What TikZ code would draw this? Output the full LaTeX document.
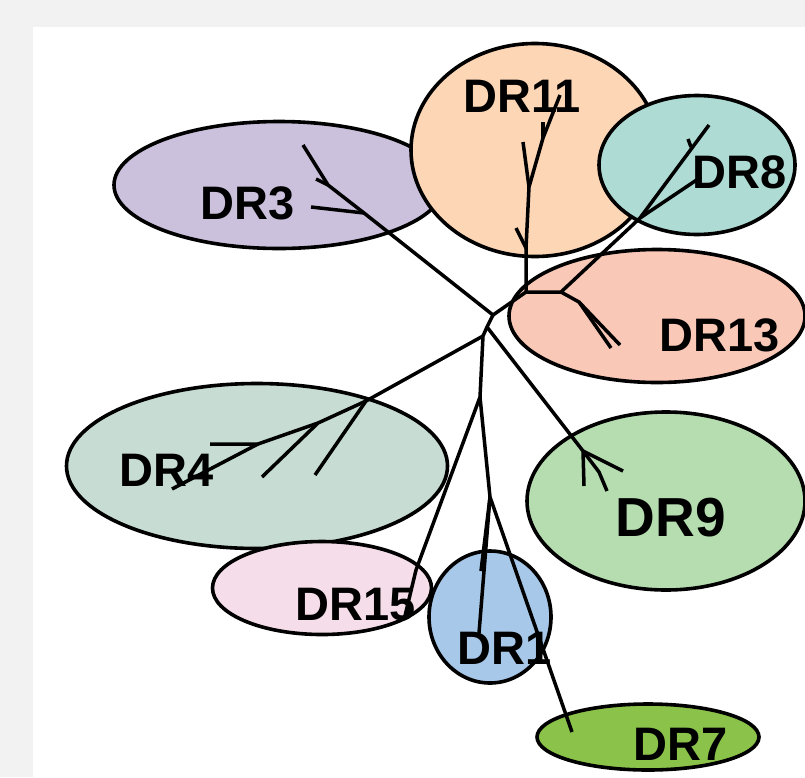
\documentclass[tikz,border=0pt]{standalone}
\usepackage{fontspec}
\setmainfont{Liberation Sans}
\usetikzlibrary{shapes.geometric}
\definecolor{bgcol}{HTML}{F2F2F2}
\definecolor{cthree}{HTML}{CBC1DC}
\definecolor{celeven}{HTML}{FDD6B5}
\definecolor{ceight}{HTML}{AEDCD5}
\definecolor{cthirteen}{HTML}{FAC8B7}
\definecolor{cfour}{HTML}{C7DDD3}
\definecolor{cnine}{HTML}{B5DDB0}
\definecolor{cfifteen}{HTML}{F6DDEA}
\definecolor{cone}{HTML}{A7C8E8}
\definecolor{cseven}{HTML}{8BC34A}
\begin{document}
\begin{tikzpicture}[x=1pt,y=-1pt,
  blob/.style={draw=black,line width=3.6pt,ellipse,inner sep=0pt},
  lbl/.style={font=\fontsize{47}{47}\selectfont\bfseries,inner sep=0pt},
  br/.style={line width=3.5pt,line cap=butt,line join=miter}]
\useasboundingbox (0,0) rectangle (805,777);
\fill[bgcol] (0,0) rectangle (805,777);
\fill[white] (33,27) rectangle (805,777);
% clusters
\node[blob,fill=cthree,minimum width=330pt,minimum height=127pt] (e3) at (279,185) {};
\node[blob,fill=celeven,minimum width=248pt,minimum height=213pt] (e11) at (535,150) {};
\node[blob,fill=ceight,minimum width=196pt,minimum height=139pt] (e8) at (697,165) {};
\node[blob,fill=cthirteen,minimum width=296pt,minimum height=133pt] (e13) at (657,316) {};
\node[blob,fill=cfour,minimum width=381pt,minimum height=165pt] (e4) at (257,466) {};
\node[blob,fill=cfifteen,minimum width=219pt,minimum height=93pt] (e15) at (322,588) {};
\node[blob,fill=cone,minimum width=122pt,minimum height=132pt] (e1) at (490,617) {};
\node[blob,fill=cnine,minimum width=278pt,minimum height=178pt] (e9) at (666,501) {};
\node[blob,fill=cseven,minimum width=222pt,minimum height=66pt] (e7) at (648,737) {};
% labels
\node[lbl] (t3) at (248,203) {DR3};
\node[lbl] (t11) at (522,96) {DR11};
\node[lbl] (t8) at (740,172) {DR8};
\node[lbl] (t13) at (720,335) {DR13};
\node[lbl] (t4) at (167,470) {DR4};
\node[lbl] (t15) at (356,605) {DR15};
\node[lbl] (t1) at (505,648) {DR1};
\node[lbl,font=\fontsize{55}{55}\selectfont\bfseries] (t9) at (671,518) {DR9};
\node[lbl] (t7) at (681,744) {DR7};
% tree coordinates
\coordinate (A) at (493,315);
\coordinate (C) at (487,327);
\coordinate (D) at (483,336);
\coordinate (E) at (480,397);
\coordinate (F) at (490,497);
\coordinate (B) at (526,292);
\coordinate (L) at (561,292);
\coordinate (J) at (529,187);
\coordinate (K) at (543,138);
\coordinate (M) at (640,218);
\coordinate (G) at (366,401);
\coordinate (H) at (318,423);
\coordinate (I) at (258,444);
\coordinate (P3) at (328,185);
\coordinate (O3) at (364,213);
\coordinate (N9) at (583,451);
\coordinate (Q9) at (599,472);
\coordinate (R13) at (579,302);
\coordinate (S15) at (416,570);
% leaves
\coordinate (l3a) at (303,145);
\coordinate (l3b) at (316,179);
\coordinate (l3c) at (311,207);
\coordinate (l11t) at (516,228);
\coordinate (l11a) at (523,142);
\coordinate (l11b) at (560,95);
\coordinate (l11c) at (543,122);
\coordinate (l8a) at (709,125);
\coordinate (l8b) at (701,177);
\coordinate (l8t1) at (691,147);
\coordinate (l8t2) at (688,139);
\coordinate (l13a) at (611,348);
\coordinate (l13b) at (620,345);
\coordinate (l9a) at (584,486);
\coordinate (l9b) at (623,471);
\coordinate (l9c) at (607,491);
\coordinate (l4a) at (315,475);
\coordinate (l4b) at (262,477);
\coordinate (l4c) at (210,444);
\coordinate (l4d) at (172,489);
\coordinate (l15) at (404,620);
\coordinate (l1a) at (481,571);
\coordinate (l1b) at (479,633);
\coordinate (l7) at (572,732);
\coordinate (V11) at (526,248);
% branches
\draw[br] (A) -- (O3) -- (P3) -- (l3a);
\draw[br] (P3) -- (l3b);
\draw[br] (O3) -- (l3c);
\draw[br] (A) -- (B) -- (V11) -- (J);
\draw[br] (V11) -- (l11t);
\draw[br] (J) -- (l11a);
\draw[br] (J) -- (K) -- (l11b);
\draw[br] (K) -- (l11c);
\draw[br] (B) -- (L) -- (M) -- (l8a);
\draw[br] (M) -- (l8b);
\draw[br] (l8t1) -- (l8t2);
\draw[br] (L) -- (R13) -- (l13a);
\draw[br] (R13) -- (l13b);
\draw[br] (A) -- (C) -- (D) -- (E) -- (F);
\draw[br] (C) -- (N9) -- (l9a);
\draw[br] (N9) -- (l9b);
\draw[br] (N9) -- (Q9) -- (l9c);
\draw[br] (D) -- (G) -- (l4a);
\draw[br] (G) -- (H) -- (l4b);
\draw[br] (H) -- (I) -- (l4c);
\draw[br] (I) -- (l4d);
\draw[br] (E) -- (S15) -- (l15);
\draw[br] (F) -- (l1a);
\draw[br] (F) -- (l1b);
\draw[br] (F) -- (l7);
\end{tikzpicture}
\end{document}
